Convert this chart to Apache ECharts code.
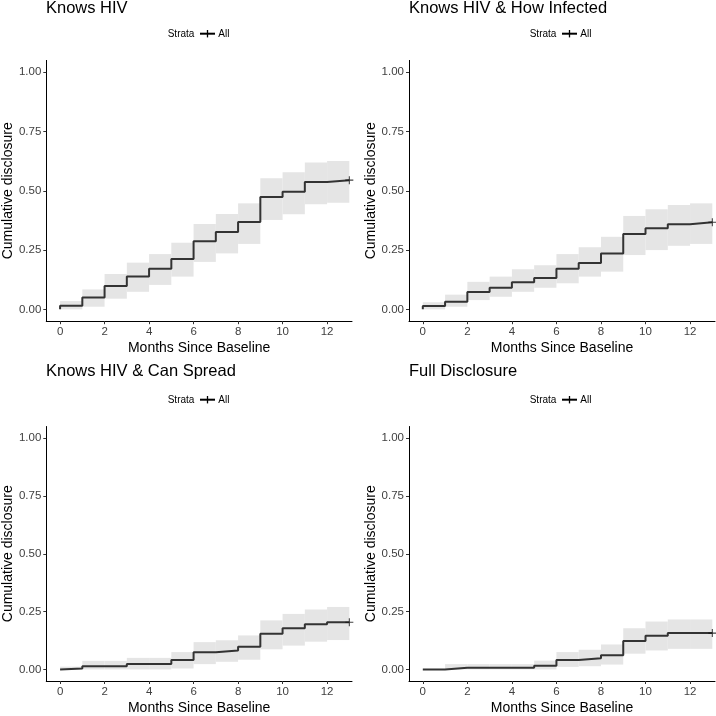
<!DOCTYPE html>
<html>
<head>
<meta charset="utf-8">
<script src="https://cdn.jsdelivr.net/npm/echarts@6/dist/echarts.min.js"></script>
<style>
html,body{margin:0;padding:0;background:#fff;}
#chart{width:716px;height:716px;}
</style>
</head>
<body>
<div id="chart"></div>
<script>
// Interval start months (each step holds until the next month); censor at 13
const months = [0,1,2,3,4,5,6,7,8,9,10,11,12,13];
const xTicks = [0,2,4,6,8,10,12];
const yTicks = [0,0.25,0.5,0.75,1];
const panelTitles = ['Knows HIV','Knows HIV & How Infected','Knows HIV & Can Spread','Full Disclosure'];
const legendTitle = 'Strata';
const legendLabel = 'All';

const knowsHivEst = [0.015,0.050,0.098,0.139,0.171,0.212,0.287,0.326,0.368,0.474,0.496,0.537,0.545];
const knowsHivLo  = [0.000,0.011,0.045,0.074,0.103,0.138,0.200,0.236,0.276,0.377,0.401,0.443,0.450];
const knowsHivHi  = [0.035,0.084,0.149,0.197,0.233,0.281,0.360,0.402,0.447,0.553,0.578,0.619,0.626];

const howInfEst = [0.014,0.032,0.073,0.091,0.114,0.132,0.171,0.195,0.236,0.318,0.342,0.359,0.367];
const howInfLo  = [0.000,0.011,0.039,0.053,0.074,0.091,0.110,0.138,0.159,0.229,0.250,0.268,0.276];
const howInfHi  = [0.030,0.062,0.116,0.138,0.169,0.186,0.233,0.262,0.306,0.394,0.422,0.440,0.447];

const canSpreadEst = [0.004,0.014,0.014,0.023,0.023,0.041,0.074,0.082,0.098,0.154,0.178,0.195,0.204];
const canSpreadLo  = [0.000,0.000,0.000,0.000,0.000,0.004,0.023,0.033,0.042,0.087,0.103,0.120,0.127];
const canSpreadHi  = [0.012,0.037,0.037,0.050,0.050,0.075,0.118,0.126,0.147,0.212,0.240,0.259,0.270];

const fullEst = [0.000,0.007,0.007,0.007,0.007,0.016,0.041,0.048,0.061,0.123,0.146,0.157,0.157];
const fullLo  = [0.000,0.000,0.000,0.000,0.000,0.000,0.011,0.014,0.021,0.068,0.082,0.089,0.089];
const fullHi  = [0.000,0.023,0.023,0.023,0.023,0.038,0.075,0.085,0.108,0.178,0.207,0.216,0.216];

const panels = [
  {est: knowsHivEst, lo: knowsHivLo, hi: knowsHivHi},
  {est: howInfEst, lo: howInfLo, hi: howInfHi},
  {est: canSpreadEst, lo: canSpreadLo, hi: canSpreadHi},
  {est: fullEst, lo: fullLo, hi: fullHi}
];

const FONT = '"Liberation Sans", Arial, sans-serif';
const gridBoxes = [
  {left: 46, top: 60.4, width: 306, height: 260.8},
  {left: 409, top: 60.4, width: 306, height: 260.8},
  {left: 46, top: 426.5, width: 306, height: 257.9},
  {left: 409, top: 426.5, width: 306, height: 257.9}
];
const titleTop = [0, 0, 363, 363];
const legendY = [33.7, 33.7, 399.7, 399.7];
const colOffset = [0, 362, 0, 362];

const grid = [], xAxis = [], yAxis = [], series = [], graphic = [];

panels.forEach((p, i) => {
  grid.push(Object.assign({containLabel: false}, gridBoxes[i]));
  xAxis.push({
    type: 'value', gridIndex: i, min: -0.62, max: 13.12,
    name: 'Months Since Baseline', nameLocation: 'middle', nameGap: 20,
    nameTextStyle: {fontFamily: FONT, fontSize: 14, color: '#000'},
    axisLine: {show: true, onZero: false, lineStyle: {color: '#000', width: 1}},
    axisTick: {show: true, length: 3, customValues: xTicks, lineStyle: {color: '#333'}},
    axisLabel: {customValues: xTicks, margin: 5, fontFamily: FONT, fontSize: 11.5, color: '#404040'},
    splitLine: {show: false}
  });
  yAxis.push({
    type: 'value', gridIndex: i, min: -0.05, max: 1.05,
    name: 'Cumulative disclosure', nameLocation: 'middle', nameGap: 31,
    nameTextStyle: {fontFamily: FONT, fontSize: 14, color: '#000'},
    axisLine: {show: true, onZero: false, lineStyle: {color: '#000', width: 1}},
    axisTick: {show: true, length: 3, customValues: yTicks, lineStyle: {color: '#333'}},
    axisLabel: {customValues: yTicks, margin: 5, fontFamily: FONT, fontSize: 11.5, color: '#404040',
      formatter: v => v.toFixed(2)},
    splitLine: {show: false}
  });

  // confidence band rectangles
  const bandData = p.est.map((_, k) => [months[k], months[k+1], p.lo[k], p.hi[k]]);
  series.push({
    type: 'custom', name: 'band' + i, xAxisIndex: i, yAxisIndex: i,
    data: bandData, encode: {x: [0,1], y: [2,3]}, silent: true, z: 1,
    renderItem: (params, api) => {
      const a = api.coord([api.value(0), api.value(3)]);
      const b = api.coord([api.value(1), api.value(2)]);
      return {type: 'rect', shape: {x: a[0], y: a[1], width: b[0]-a[0], height: b[1]-a[1]},
        style: {fill: '#e5e5e5'}};
    }
  });

  // step line
  const lineData = [[months[0], 0]];
  p.est.forEach((v, k) => lineData.push([months[k], v]));
  lineData.push([months[months.length-1], p.est[p.est.length-1]]);
  series.push({
    type: 'line', name: legendLabel, xAxisIndex: i, yAxisIndex: i, step: 'end',
    data: lineData, showSymbol: false, symbol: 'none', z: 3,
    lineStyle: {color: '#333', width: 2}, itemStyle: {color: '#333'}
  });

  // censor mark
  series.push({
    type: 'scatter', name: 'censor' + i, xAxisIndex: i, yAxisIndex: i, z: 4,
    data: [[months[months.length-1], p.est[p.est.length-1]]],
    symbol: 'path://M0,4.35H10V5.65H0Z M4.35,0H5.65V10H4.35Z', symbolSize: 8,
    itemStyle: {color: '#111'}
  });

  // panel title
  graphic.push({
    type: 'text', left: 46 + (i % 2 ? 363 : 0), top: titleTop[i],
    style: {text: panelTitles[i], fontFamily: FONT, fontSize: 16.5, fill: '#000'}
  });
  // legend: "Strata" + key + "All"
  const ox = colOffset[i], ly = legendY[i];
  graphic.push({
    type: 'text', x: 167.7 + ox, y: ly + 0.5,
    style: {text: legendTitle, fontFamily: FONT, fontSize: 10, fill: '#000', verticalAlign: 'middle'}
  });
  graphic.push({
    type: 'line', shape: {x1: 200 + ox, y1: ly, x2: 215 + ox, y2: ly},
    style: {stroke: '#000', lineWidth: 2}
  });
  graphic.push({
    type: 'line', shape: {x1: 207.5 + ox, y1: ly - 3.7, x2: 207.5 + ox, y2: ly + 3.7},
    style: {stroke: '#000', lineWidth: 1.3}
  });
  graphic.push({
    type: 'text', x: 218.3 + ox, y: ly + 0.5,
    style: {text: legendLabel, fontFamily: FONT, fontSize: 10, fill: '#000', verticalAlign: 'middle'}
  });
});

const chart = echarts.init(document.getElementById('chart'), null, {renderer: 'canvas'});
chart.setOption({
  animation: false,
  backgroundColor: '#fff',
  grid, xAxis, yAxis, series, graphic
});
</script>
</body>
</html>
